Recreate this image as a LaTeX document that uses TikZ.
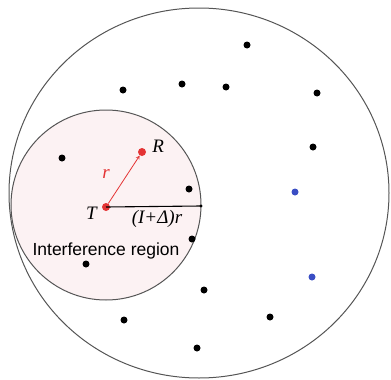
\documentclass[tikz,border=0pt]{standalone}
\usepackage{fontspec}
\setmainfont{Liberation Serif}
\setsansfont{Liberation Sans}
\usetikzlibrary{positioning}
\definecolor{tred}{RGB}{228,52,52}
\definecolor{nblue}{RGB}{58,78,196}
\definecolor{regionfill}{RGB}{252,242,243}
\definecolor{rim}{RGB}{85,85,85}
\begin{document}
\begin{tikzpicture}[
  x=1pt, y=-1pt,
  dot/.style={circle, fill=black, inner sep=0pt, minimum size=7pt},
  bluedot/.style={dot, fill=nblue},
  reddot/.style={dot, fill=tred, minimum size=8pt},
  lbl/.style={font=\fontsize{19}{19}\selectfont\itshape, inner sep=1pt},
  arrow/.style={->, >=stealth, tred, line width=0.8pt}
]
\useasboundingbox (0,0) rectangle (391,380);
% network area and interference region
\draw[rim, line width=1pt] (199,193) ellipse [x radius=190, y radius=185];
\draw[rim, line width=1pt, fill=regionfill] (106,205) circle [radius=95];

\node[reddot] (T) at (106,207) {};
\node[reddot] (R) at (142,152) {};
\coordinate (edge) at (201,206);
\fill (edge) circle [radius=1.6pt];

\draw[black, line width=1.1pt] (T.center) -- (edge);
\draw[arrow] (T) -- (R);

\node[lbl] (tl) [left=4pt of T, yshift=-6pt] {T};
\node[lbl] (rl) [right=5pt of R, yshift=6pt] {R};
\node[lbl, text=tred] (rlen) at (106,174) {r};
\node[lbl] (dl) at (157,219) {(I+Δ)r};
\node[font=\sffamily\fontsize{17.5}{17.5}\selectfont, inner sep=0pt] (ir) at (106,251) {Interference region};

% other nodes
\foreach \n/\p in {1/{247,45}, 2/{123,90}, 3/{182,84}, 4/{226,87}, 5/{317,93},
  6/{313,147}, 7/{62,158}, 8/{189,189}, 9/{192,239}, 10/{86,264},
  11/{204,290}, 12/{124,320}, 13/{270,317}, 14/{197,348}}
  \node[dot] (d\n) at (\p) {};
\node[bluedot] (b1) at (295,192) {};
\node[bluedot] (b2) at (312,277) {};
\end{tikzpicture}
\end{document}
